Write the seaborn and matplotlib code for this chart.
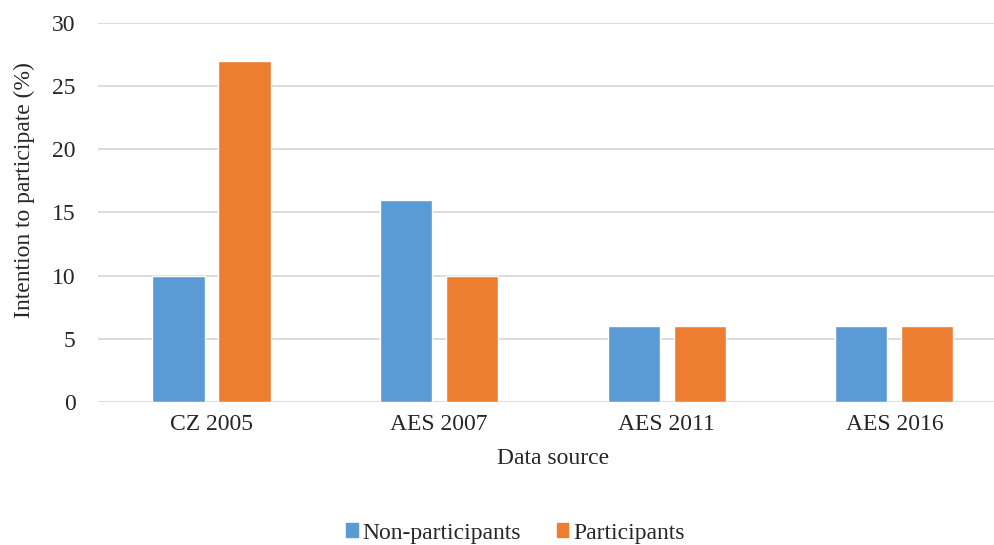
import numpy as np
import pandas as pd
import seaborn as sns
from matplotlib import pyplot as plt

# values
sources = ["CZ 2005", "AES 2007", "AES 2011", "AES 2016"]
non_participants = [10, 16, 6, 6]
participants = [27, 10, 6, 6]
groups = ["Non-participants", "Participants"]
colours = ["#5B9BD5", "#ED7D31"]

df = pd.DataFrame({
    "source": sources * 2,
    "value": non_participants + participants,
    "group": [groups[0]] * 4 + [groups[1]] * 4,
})

sns.set_style("white")
plt.rcParams['font.family'] = ['Liberation Serif', 'DejaVu Serif']

fig = plt.figure(figsize=(9.95, 5.45), dpi=100)
# axes runs a bit past the right edge, as in the reference
ax = fig.add_axes([0.0982, 0.2624, 0.915, 0.6954])

sns.barplot(data=df, x="source", y="value", hue="group", order=sources,
            hue_order=groups, palette=colours, width=0.58, gap=0.21,
            saturation=1, ax=ax, legend=False)

ax.set_xlim(-0.5, 3.5)
ax.set_ylim(0, 30)
ax.set_yticks(np.arange(0, 31, 5))
ax.yaxis.grid(True, color="#D9D9D9", linewidth=1.3)
ax.set_axisbelow(True)
for s in ax.spines.values():
    s.set_visible(False)
txt = "#262626"
ax.tick_params(axis="both", length=0, labelsize=17, colors=txt, pad=9)
ax.tick_params(axis="y", pad=16)
ax.set_xlabel("Data source", fontsize=17, color=txt, labelpad=9)
ax.set_ylabel("Intention to participate (%)", fontsize=17, color=txt)
ax.yaxis.set_label_coords(-0.069, 0.56)

handles = [plt.Rectangle((0, 0), 1, 1, color=c) for c in colours]
fig.legend(handles, groups, loc="center", bbox_to_anchor=(0.518, 0.022), ncol=2,
           frameon=False, fontsize=17, handlelength=0.5, handleheight=0.5,
           handletextpad=0.2, columnspacing=1.5, labelcolor=txt)

plt.savefig("out.png", dpi=100)
